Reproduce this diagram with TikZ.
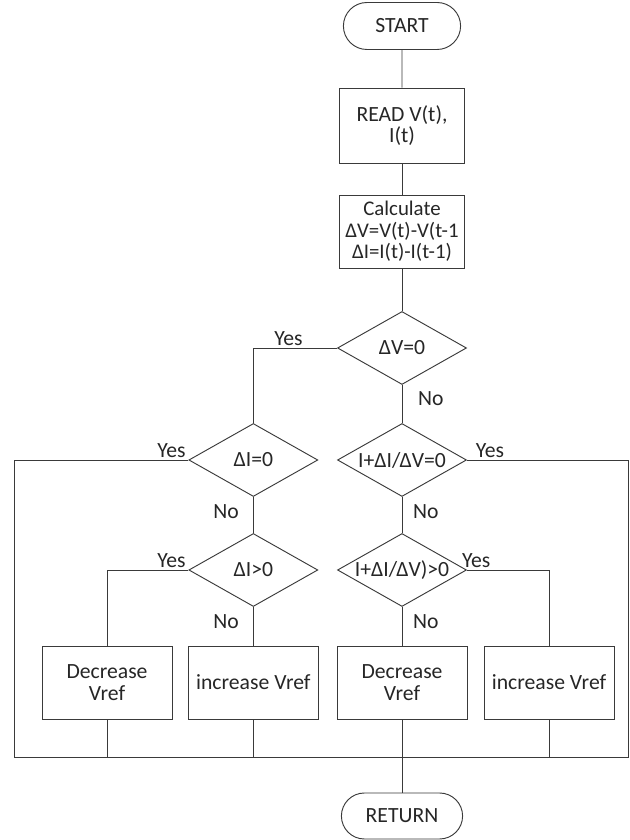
\documentclass[tikz,border=0pt]{standalone}
\usepackage{fontspec}
\setmainfont{Carlito}
\usepackage{tikz}
\usetikzlibrary{shapes.geometric, shapes.misc, positioning, calc}
\definecolor{LineGray}{HTML}{3A3A3A}
\definecolor{InkGray}{HTML}{262626}

\begin{document}
\begin{tikzpicture}[
    every node/.style={font=\fontsize{18.5}{18.5}\selectfont, text=InkGray},
    terminal/.style={draw=LineGray, line width=0.8pt, rounded rectangle, minimum width=3.75cm, minimum height=1.41cm},
    process/.style={draw=LineGray, line width=0.8pt, rectangle, align=center, inner sep=0pt, minimum width=3.75cm, minimum height=2.19cm},
    decision/.style={draw=LineGray, line width=0.8pt, diamond, aspect=1.77, inner sep=0pt, minimum width=3.87cm, minimum height=2.19cm},
    flow/.style={draw=LineGray, line width=0.8pt},
    tag/.style={inner sep=2pt}
]
    \useasboundingbox (0,0) rectangle (18.87,25.2);

    % Main column
    \node[terminal] (start) at (12.06,24.42) {START};
    \node[process, minimum height=2.25cm] (read) at (12.06,21.435) {READ V(t),\\I(t)};
    \node[process, font=\fontsize{17.8}{18.5}\selectfont] (calc) at (12.06,18.255) {Calculate\\ΔV=V(t)-V(t-1\\ΔI=I(t)-I(t-1)};
    \node[decision] (dv) at (12.06,14.76) {ΔV=0};

    % Decisions
    \node[decision] (di) at (7.6,11.4) {ΔI=0};
    \node[decision] (dc) at (12.06,11.4) {I+ΔI/ΔV=0};
    \node[decision] (dg) at (7.6,8.1) {ΔI>0};
    \node[decision] (dp) at (12.06,8.1) {I+ΔI/ΔV)>0};

    % Vref updates
    \node[process, minimum width=3.9cm] (dec1) at (3.21,4.725) {Decrease\\Vref};
    \node[process, minimum width=3.9cm] (inc1) at (7.6,4.725) {increase Vref};
    \node[process, minimum width=3.9cm] (dec2) at (12.06,4.725) {Decrease\\Vref};
    \node[process, minimum width=3.9cm] (inc2) at (16.47,4.725) {increase Vref};
    \node[terminal, minimum width=3.87cm, minimum height=1.38cm] (ret) at (12.06,0.72) {RETURN};

    % Return loop corners
    \coordinate (loopL) at (0.42,2.49);
    \coordinate (loopR) at (18.84,2.49);

    % Connectors
    \draw[flow] (start) -- (read);
    \draw[flow] (read) -- (calc);
    \draw[flow] (calc) -- (dv);
    \draw[flow] (dv.west) -| node[tag, above, pos=0.29] {Yes} (di.north);
    \draw[flow] (dv.south) -- node[tag, right=0.4cm, pos=0.35] {No} (dc.north);
    \draw[flow] (di.west) -| node[tag, above left, pos=0] {Yes} (loopL) -- (loopR)
        |- node[tag, above right, pos=1, xshift=0.18cm] {Yes} (dc.east);
    \draw[flow] (di.south) -- node[tag, left=0.35cm, pos=0.42] {No} (dg.north);
    \draw[flow] (dc.south) -- node[tag, right=0.25cm, pos=0.42] {No} (dp.north);
    \draw[flow] (dg.west) -| node[tag, above left, pos=0] {Yes} (dec1.north);
    \draw[flow] (dg.south) -- node[tag, left=0.35cm, pos=0.38] {No} (inc1.north);
    \draw[flow] (dp.east) -| node[tag, above right, pos=0, xshift=-0.23cm] {Yes} (inc2.north);
    \draw[flow] (dp.south) -- node[tag, right=0.25cm, pos=0.38] {No} (dec2.north);

    % Back to the loop line
    \draw[flow] (dec1.south) -- (dec1.south |- loopL);
    \draw[flow] (inc1.south) -- (inc1.south |- loopL);
    \draw[flow] (inc2.south) -- (inc2.south |- loopL);
    \draw[flow] (dec2.south) -- (ret.north);
\end{tikzpicture}
\end{document}
